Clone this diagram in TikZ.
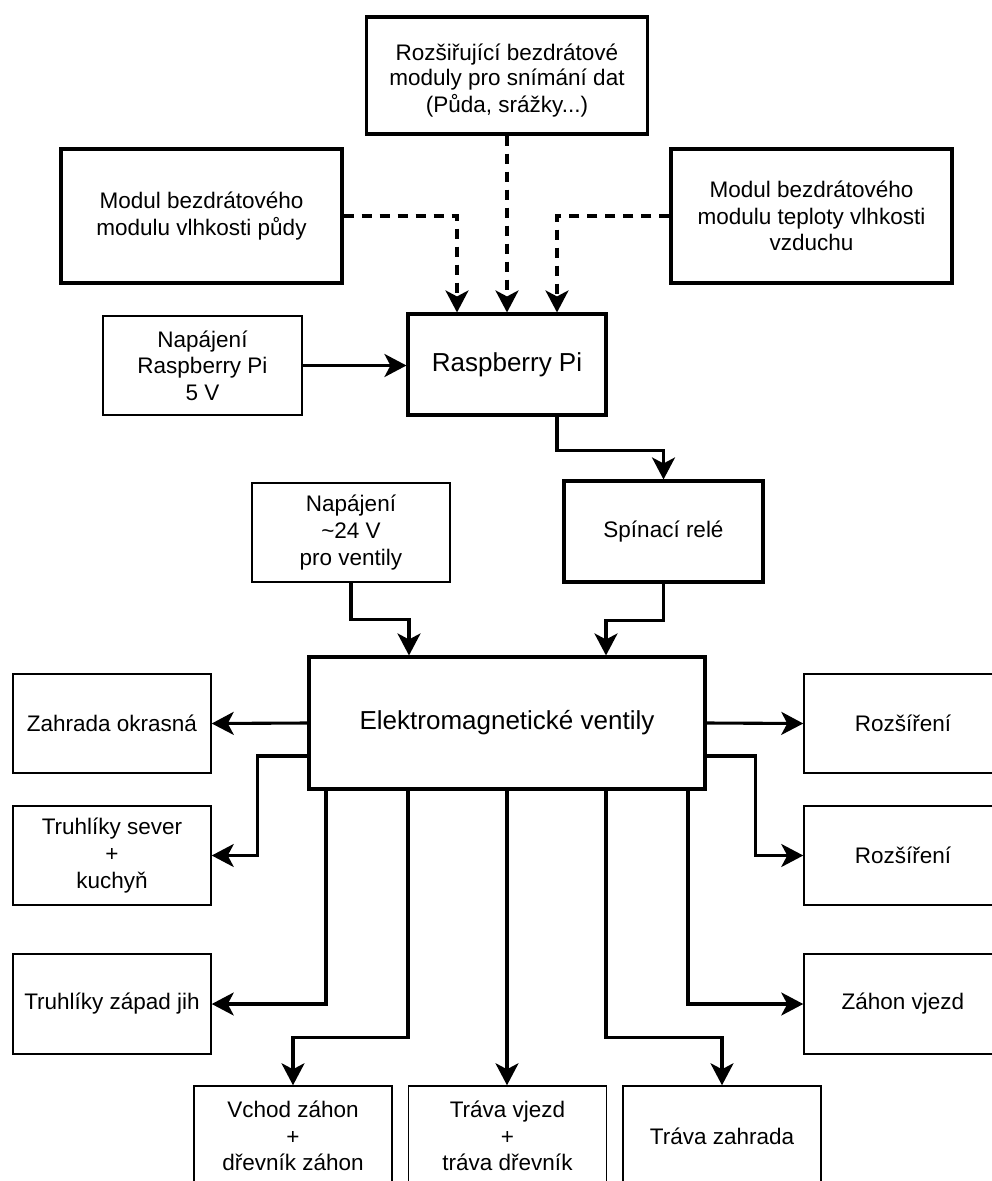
\documentclass[tikz,border=0pt]{standalone}
\usepackage{fontspec}
\setmainfont{Liberation Sans}
\usetikzlibrary{arrows.meta}
\begin{document}
\begin{tikzpicture}[x=1pt,y=-1pt,
  box/.style={draw=black,rectangle,align=center,inner sep=2pt,
    font=\fontsize{22.5pt}{26.6pt}\selectfont},
  thickbox/.style={box,line width=3.1pt},
  thinbox/.style={box,line width=1.5pt},
  big/.style={font=\fontsize{26pt}{30pt}\selectfont},
  conn/.style={line width=3.1pt,-{Stealth[length=22pt,width=23pt,inset=6pt]}},
  dconn/.style={conn,dash pattern=on 10pt off 8pt},
]
\clip (0,0) rectangle (992,1181);
\fill[white] (0,0) rectangle (992,1181);

\node[thickbox,minimum width=281pt,minimum height=117pt] (top) at (507,75.5)
  {\raisebox{-5pt}[\height][\depth]{\shortstack{Rozšiřující bezdrátové\\[1pt]moduly pro snímání dat\\[1pt](Půda, srážky...)}}};
\node[thickbox,minimum width=281pt,minimum height=134pt] (modL) at (201.5,216)
  {Modul bezdrátového\\modulu vlhkosti půdy};
\node[thickbox,minimum width=281pt,minimum height=134pt] (modR) at (811.5,216)
  {Modul bezdrátového\\modulu teploty vlhkosti\\vzduchu};
\node[thinbox,minimum width=199pt,minimum height=99pt] (pwr1) at (202.5,365.5)
  {Napájení\\Raspberry Pi\\5 V};
\node[thickbox,big,minimum width=198pt,minimum height=101pt] (rpi) at (507,364.5)
  {Raspberry Pi};
\node[thickbox,minimum width=199pt,minimum height=101pt] (rele) at (663.5,531.5)
  {Spínací relé};
\node[thinbox,minimum width=198pt,minimum height=99pt] (pwr2) at (351,532.5)
  {Napájení\\\textasciitilde24 V\\pro ventily};
\node[thickbox,big,minimum width=396pt,minimum height=132pt] (ev) at (507,723)
  {Elektromagnetické ventily};

\node[thinbox,minimum width=198pt,minimum height=99pt] (zo) at (112,723.5) {Zahrada okrasná};
\node[thinbox,minimum width=198pt,minimum height=99pt] (roz1) at (903,723.5) {Rozšíření};
\node[thinbox,minimum width=198pt,minimum height=99pt] (ts) at (112,855.5) {Truhlíky sever\\+\\kuchyň};
\node[thinbox,minimum width=198pt,minimum height=99pt] (roz2) at (903,855.5) {Rozšíření};
\node[thinbox,minimum width=198pt,minimum height=100pt] (tz) at (112,1004) {Truhlíky západ jih};
\node[thinbox,minimum width=198pt,minimum height=100pt] (zv) at (903,1004) {Záhon vjezd};
\node[thinbox,minimum width=198pt,minimum height=100pt] (vz) at (293,1136) {Vchod záhon\\+\\dřevník záhon};
\node[thinbox,minimum width=198pt,minimum height=100pt] (tv) at (507.5,1136) {Tráva vjezd\\+\\tráva dřevník};
\node[thinbox,minimum width=198pt,minimum height=100pt] (tza) at (722,1136) {Tráva zahrada};

% dashed inputs
\draw[dconn] (modL.east) -| ([xshift=-50pt]rpi.north);
\draw[dconn] (top.south) -- (rpi.north);
\draw[dconn] (modR.west) -| ([xshift=50pt]rpi.north);

% solid
\draw[conn] (pwr1.east) -- (pwr1.east -| rpi.west);
\draw[conn] ([xshift=50pt]rpi.south) -- ++(0,34) -| (rele.north);
\draw[conn] (pwr2.south) -- ++(0,37) -| ([xshift=-98pt]ev.north);
\draw[conn] (rele.south) -- ++(0,37) -| ([xshift=99pt]ev.north);

\draw[conn] (ev.west) -- (zo.east);
\draw[conn] (ev.east) -- (roz1.west);
\draw[conn] ([yshift=-33pt]ev.west) -- ++(-50,0) |- (ts.east);
\draw[conn] ([yshift=-33pt]ev.east) -- ++(49,0) |- (roz2.west);
\draw[conn] ([xshift=-181pt]ev.south) |- (tz.east);
\draw[conn] ([xshift=181pt]ev.south) |- (zv.west);
\draw[conn] ([xshift=-99pt]ev.south) -- ++(0,247) -| (vz.north);
\draw[conn] (ev.south) -- (ev.south |- tv.north);
\draw[conn] ([xshift=99pt]ev.south) -- ++(0,247) -| (tza.north);
\end{tikzpicture}
\end{document}
